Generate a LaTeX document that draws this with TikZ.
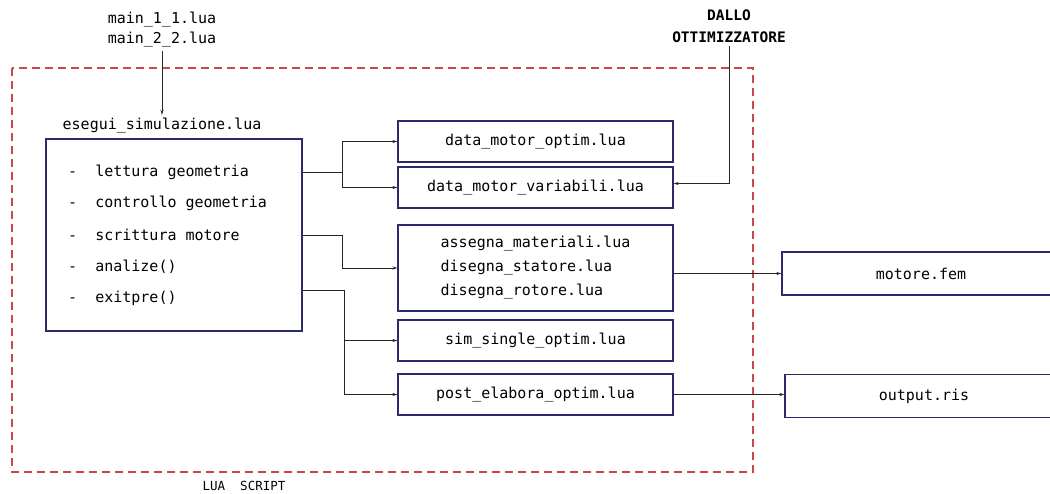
\documentclass[tikz,border=0pt]{standalone}
\usepackage{fontspec}
\setmonofont{DejaVu Sans Mono}
\usetikzlibrary{arrows.meta, positioning}
\definecolor{boxblue}{HTML}{2B2B6B}
\definecolor{scriptred}{HTML}{C84848}

\begin{document}
\begin{tikzpicture}[x=1pt, y=-1pt,
    font=\ttfamily\fontsize{15}{20}\selectfont,
    filebox/.style={draw=boxblue, line width=1.1pt, minimum width=275pt, minimum height=41pt, inner sep=0pt},
    outbox/.style={draw=boxblue, line width=1.1pt, minimum width=278pt, minimum height=43pt, inner sep=0pt},
    link/.style={draw=black!85, line width=0.9pt, -{Stealth[length=5pt, width=3pt]}}]
    \useasboundingbox (0,0) rectangle (1050,493);

    % area degli script lua
    \draw[scriptred, line width=1.1pt, dash pattern=on 8pt off 5pt] (12,68) rectangle (753,472);
    \node (luascript) [font=\ttfamily\fontsize{12.5}{14}\selectfont] at (244,486) {LUA\ \ SCRIPT};

    % ingressi
    \node (mainfiles) [align=center] at (162,30) {main\_1\_1.lua\\main\_2\_2.lua};
    \node (ottim) [align=center, font=\ttfamily\bfseries\fontsize{14.5}{22}\selectfont] at (729,26) {DALLO\\OTTIMIZZATORE};

    % script principale
    \node (esegui) at (162,126) {esegui\_simulazione.lua};
    \node (engine) [draw=boxblue, line width=1.1pt, minimum width=256pt, minimum height=192pt] at (174,235) {};
    \foreach \txt [count=\i] in {lettura geometria, controllo geometria, scrittura motore, analize(), exitpre()}
        \node (it\i) [anchor=west, inner sep=0pt] at (68,{172+(\i-1)*31.5}) {-\ \ \txt};
    \coordinate (exitout) at (302,290);

    % file chiamati
    \node (optim)  [filebox] at (535.5,141.5) {data\_motor\_optim.lua};
    \node (variab) [filebox] at (535.5,187.5) {data\_motor\_variabili.lua};
    \node (geom)   [filebox, minimum height=86pt, align=left, font=\ttfamily\fontsize{15}{24}\selectfont] at (535.5,268)
        {assegna\_materiali.lua\\disegna\_statore.lua\\disegna\_rotore.lua};
    \node (sim)    [filebox] at (535.5,340.5) {sim\_single\_optim.lua};
    \node (post)   [filebox] at (535.5,394.5) {post\_elabora\_optim.lua};

    % uscite
    \node (fem)    [outbox] at (921,273.5) {motore.fem};
    \node (outris) [outbox] at (924,396) {output.ris};

    % collegamenti
    \draw[link] (mainfiles.south) -- (esegui.north);
    \draw[draw=black!85, line width=0.9pt] (engine.east |- it1) -- ++(40,0) coordinate (j1);
    \draw[link] (j1) |- (optim.west);
    \draw[link] (j1) |- (variab.west);
    \draw[link] (engine.east |- it3) -- ++(40,0) |- (geom.west);
    \draw[draw=black!85, line width=0.9pt] (exitout) -- ++(42,0) coordinate (j3);
    \draw[link] (j3) |- (post.west);
    \draw[link] (j3 |- sim.west) -- (sim.west);
    \draw[link] (ottim.south) |- ([yshift=4pt]variab.east);
    \draw[link] (fem.west -| geom.east) -- (fem.west);
    \draw[link] (post.east) -- (outris.west |- post.east);
\end{tikzpicture}
\end{document}
